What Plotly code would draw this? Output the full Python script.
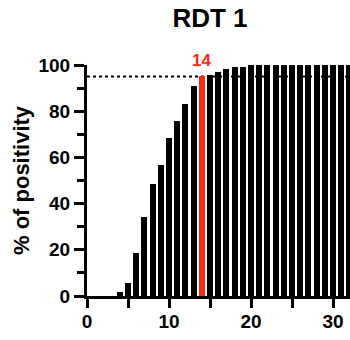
import plotly.graph_objects as go

# Cumulative positivity per day (RDT 1)
days = list(range(0, 33))
positivity = [
    0, 0, 0, 0, 1.9, 5.5, 18.5, 34.4, 48.4, 56.8,
    68.6, 75.9, 83.2, 91.0, 95.1, 95.8, 97.1, 98.3, 99.1, 99.1,
    100, 100, 100, 100, 100, 100, 100, 100, 100, 100,
    100, 100, 100,
]
highlight_day = 14
threshold = 95
title_text = "RDT 1"
y_title = "% of positivity"

RED = "#ff2a12"
FONT = "Liberation Sans, Arial, sans-serif"

colors = [RED if d == highlight_day else "black" for d in days]

fig = go.Figure()
fig.add_trace(go.Bar(
    x=days,
    y=positivity,
    width=0.72,
    marker=dict(color=colors, line=dict(width=0)),
    showlegend=False,
))

# 95 % reference line
fig.add_shape(
    type="line", xref="x domain", yref="y",
    x0=0, x1=1, y0=threshold, y1=threshold,
    line=dict(color="black", width=2, dash="dot"),
    layer="below",
)

# label above the highlighted bar
hi_val = positivity[days.index(highlight_day)]
fig.add_annotation(
    x=highlight_day, y=hi_val, text=str(highlight_day),
    showarrow=False, yanchor="middle", yshift=16,
    font=dict(family=FONT, size=17, color=RED, weight="bold"),
)

fig.update_layout(
    width=350, height=340,
    margin=dict(l=87, r=0, t=65, b=44),
    paper_bgcolor="white", plot_bgcolor="white",
    bargap=0,
    font=dict(family=FONT, color="black", weight="bold"),
    title=dict(
        text=title_text, x=0.6, xanchor="center", xref="container",
        y=1 - 18 / 340, yanchor="middle", yref="container",
        font=dict(family=FONT, size=26, color="black", weight="bold"),
    ),
)

fig.update_xaxes(
    range=[0, 32.07], showgrid=False, zeroline=False,
    showline=True, linewidth=3, linecolor="black",
    ticks="outside", ticklen=9, tickwidth=3, tickcolor="black",
    tick0=0, dtick=10, ticklabelstandoff=-3,
    minor=dict(ticks="outside", ticklen=9, tickwidth=3, tickcolor="black", dtick=5, showgrid=False),
    tickfont=dict(family=FONT, size=19, color="black", weight="bold"),
)
fig.update_yaxes(
    range=[0, 100], showgrid=False, zeroline=False,
    showline=True, linewidth=3, linecolor="black",
    ticks="outside", ticklen=10, tickwidth=3, tickcolor="black",
    tick0=0, dtick=20,
    minor=dict(ticks="outside", ticklen=7, tickwidth=3, tickcolor="black", dtick=10, showgrid=False),
    tickfont=dict(family=FONT, size=19, color="black", weight="bold"),
    title=dict(text=y_title, standoff=3,
               font=dict(family=FONT, size=22, color="black", weight="bold")),
)

fig.write_html("out.html")
